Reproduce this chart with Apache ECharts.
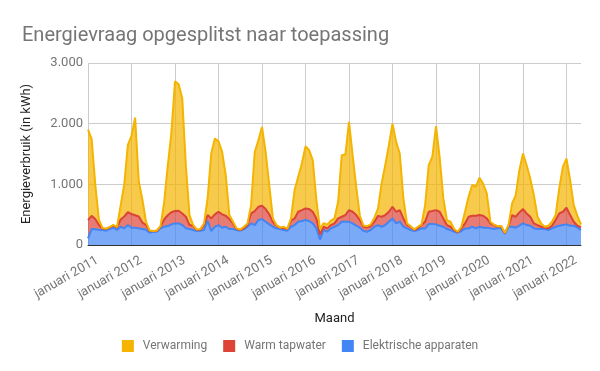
<!DOCTYPE html>
<html><head><meta charset="utf-8">
<script src="https://cdn.jsdelivr.net/npm/echarts@6/dist/echarts.min.js"></script>
<style>html,body{margin:0;padding:0;background:#fff}#c{width:600px;height:371px}</style>
</head><body><div id="c"></div>
<script>
const monthNames = ['januari','februari','maart','april','mei','juni','juli','augustus','september','oktober','november','december'];
const startYear = 2011;
const monthCount = 137;
const categories = [];
for (let i = 0; i < monthCount; i++) {
  categories.push(monthNames[i % 12] + ' ' + (startYear + Math.floor(i / 12)));
}
const elektrisch = [110,263,258,252,247,236,263,285,247,301,274,329,
  285,285,274,263,252,203,219,219,274,301,312,340,
  356,356,329,274,263,247,230,236,247,400,230,301,
  329,285,301,263,263,247,236,263,301,356,329,411,
  427,384,340,301,274,263,247,236,301,329,384,395,
  411,395,356,274,90,247,219,274,301,329,384,384,
  384,356,318,285,230,219,247,301,329,301,329,384,
  438,356,384,301,274,247,230,247,274,274,345,345,
  340,318,301,263,247,219,203,230,274,274,301,274,
  301,285,285,274,263,280,274,185,301,301,285,318,
  356,329,318,274,263,263,263,247,274,301,318,329,
  340,318,318,285,250];
const tapwater = [300,217,172,78,23,29,27,35,43,119,196,211,
  225,205,196,107,78,27,6,16,26,119,178,200,
  204,209,191,192,66,71,17,16,82,93,208,203,
  219,219,181,164,93,16,11,11,28,164,230,219,
  220,208,164,83,44,22,27,27,99,109,164,180,
  192,197,192,164,80,54,55,55,55,109,82,109,
  191,192,175,126,70,71,63,83,151,165,164,164,
  192,192,191,137,55,54,17,27,55,110,203,214,
  235,230,137,66,54,28,5,44,82,192,181,208,
  192,197,153,82,66,25,27,10,14,192,181,219,
  236,191,148,82,66,38,22,27,44,110,202,219,
  274,175,66,33,40];
const verwarming = [1490,1270,570,90,10,5,10,10,10,230,530,1110,
  1290,1610,580,380,50,10,5,5,10,280,810,1310,
  2140,2085,1900,834,164,12,8,11,27,274,1069,1250,
  1162,1030,668,66,28,11,8,26,27,138,975,1096,
  1298,942,482,54,11,5,26,7,40,467,577,770,
  1027,973,852,302,90,60,62,72,82,274,1014,997,
  1455,932,457,69,20,20,30,66,120,548,822,1096,
  1370,1152,932,329,27,9,8,27,11,274,770,896,
  1385,902,342,81,83,16,11,27,192,334,508,478,
  617,528,412,28,6,5,14,5,14,192,356,696,
  915,795,630,466,137,55,16,44,66,82,412,740,
  811,576,274,162,50];
const yTicks = [0, 1000, 2000, 3000];
const seriesNames = ['Elektrische apparaten', 'Warm tapwater', 'Verwarming'];
const legendOrder = ['Verwarming', 'Warm tapwater', 'Elektrische apparaten'];
const colors = {'Verwarming':'#F4B400','Warm tapwater':'#DB4437','Elektrische apparaten':'#4285F4'};
const values = {'Elektrische apparaten': elektrisch, 'Warm tapwater': tapwater, 'Verwarming': verwarming};

function fmt(v){ return String(v).replace(/\B(?=(\d{3})+(?!\d))/g, '.'); }

const chart = echarts.init(document.getElementById('c'), null, {renderer:'canvas'});
chart.setOption({
  animation: false,
  textStyle: {fontFamily: 'Roboto'},
  title: {
    text: 'Energievraag opgesplitst naar toepassing',
    left: 17, top: 21,
    textStyle: {fontFamily:'Roboto', fontSize: 20, fontWeight: 'normal', color: '#757575'}
  },
  legend: {
    data: legendOrder,
    bottom: 14, left: 'center',
    icon: 'rect', itemWidth: 12, itemHeight: 12, itemGap: 16,
    itemStyle: {opacity: 1},
    formatter: (name) => '{t|' + name + '}',
    textStyle: {
      fontFamily:'Roboto', fontSize: 12, color: '#757575',
      rich: {t: {fontFamily:'Roboto', fontSize: 12, color: '#757575', padding: [0,0,0,4]}}
    }
  },
  grid: {left: 88, right: 19, top: 63, bottom: 126, containLabel: false},
  xAxis: {
    type: 'category',
    data: categories,
    boundaryGap: false,
    name: 'Maand',
    nameLocation: 'middle',
    nameGap: 67,
    nameTextStyle: {fontFamily:'Roboto', fontSize: 13, color: '#222'},
    axisLine: {show: true, lineStyle: {color: '#333', width: 1}},
    axisTick: {show: false},
    axisLabel: {
      interval: (idx) => idx % 12 === 0,
      rotate: 30,
      margin: 20,
      padding: [0, -11, 0, 0],
      fontFamily: 'Roboto', fontSize: 13, color: '#757575',
      formatter: (v) => v
    },
    splitLine: {show: true, interval: (idx) => idx % 12 === 0, lineStyle: {color: '#cccccc', width: 1}}
  },
  yAxis: {
    type: 'value',
    min: yTicks[0], max: yTicks[yTicks.length-1], interval: 1000,
    name: 'Energieverbruik (in kWh)',
    nameLocation: 'middle',
    nameGap: 55,
    nameTextStyle: {fontFamily:'Roboto', fontSize: 13, color: '#222'},
    axisLine: {show: false},
    axisTick: {show: false},
    axisLabel: {margin: 5, fontFamily:'Roboto', fontSize: 13, color: '#757575', formatter: fmt},
    splitLine: {show: true, lineStyle: {color: '#cccccc', width: 1}}
  },
  series: seriesNames.map(name => ({
    name: name,
    type: 'line',
    stack: 'total',
    data: values[name],
    symbol: 'none',
    showSymbol: false,
    lineStyle: {color: colors[name], width: 2},
    itemStyle: {color: colors[name]},
    areaStyle: {color: colors[name], opacity: 0.7}
  }))
});
</script>
</body></html>
